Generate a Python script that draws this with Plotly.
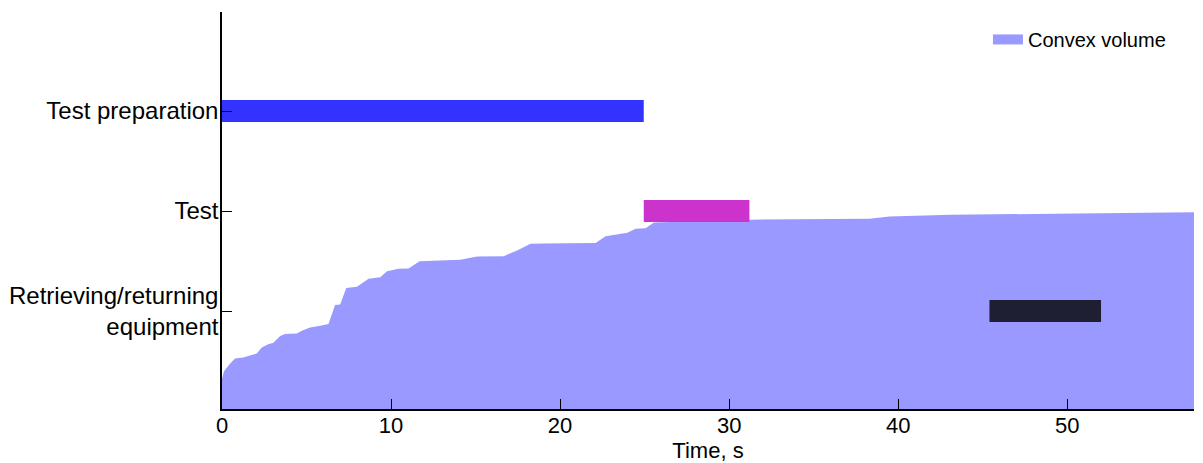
import plotly.graph_objects as go

# Activity timeline (seconds)
tasks = ["Test preparation", "Test", "Retrieving/returning<br>equipment"]
task_pos = [2, 1, 0]
task_start = [0.0, 24.95, 45.4]
task_end = [24.95, 31.2, 52.0]
task_colors = ["#3333ff", "#cc33cc", "#1f1f33"]

# Convex volume (normalised) over time
vol_t = [0.0, 0.12, 0.47, 0.77, 1.26, 1.66, 2.06, 2.35, 2.74, 3.04, 3.44, 3.73, 4.43, 4.72,
         5.21, 5.81, 6.30, 6.69, 6.99, 7.35, 7.98, 8.67, 9.36, 9.76, 10.44, 11.04, 11.69,
         14.10, 15.09, 16.66, 17.46, 18.25, 19.03, 22.10, 22.69, 23.98, 24.47, 25.06, 25.55,
         31.28, 38.33, 39.48, 43.13, 49.28, 53.14, 57.7]
vol_v = [0.076, 0.095, 0.114, 0.127, 0.130, 0.136, 0.140, 0.155, 0.163, 0.167, 0.184, 0.189,
         0.190, 0.197, 0.205, 0.210, 0.214, 0.262, 0.263, 0.305, 0.308, 0.328, 0.332, 0.347,
         0.353, 0.354, 0.372, 0.376, 0.384, 0.385, 0.399, 0.416, 0.417, 0.418, 0.435, 0.444,
         0.454, 0.455, 0.470, 0.477, 0.479, 0.485, 0.489, 0.492, 0.494, 0.496]

x_ticks = [0, 10, 20, 30, 40, 50]

FONT = "Liberation Sans, Arial, Helvetica, sans-serif"
AREA_COLOR = "#9999ff"

fig = go.Figure()

fig.add_trace(go.Scatter(
    x=vol_t, y=vol_v, mode="lines", fill="tozeroy",
    line=dict(width=0, color=AREA_COLOR), fillcolor=AREA_COLOR,
    name="Convex volume", yaxis="y", showlegend=False, hoverinfo="skip",
))
# legend swatch (thick rectangle) for the area
fig.add_trace(go.Scatter(
    x=[None], y=[None], mode="lines", line=dict(width=13, color=AREA_COLOR),
    name="Convex volume", yaxis="y", showlegend=True,
))

for name, pos, s, e, c in zip(tasks, task_pos, task_start, task_end, task_colors):
    fig.add_trace(go.Bar(
        y=[pos], x=[e - s], base=[s], orientation="h", width=0.22,
        marker=dict(color=c, line=dict(width=0)), yaxis="y2", showlegend=False,
        name=name.replace("<br>", " "),
    ))

# page body has an 8px margin, so the figure is 8px smaller and margins shifted
fig.update_layout(
    width=1195, height=455,
    margin=dict(l=214, r=9, t=4, b=54, autoexpand=False),
    paper_bgcolor="white", plot_bgcolor="white",
    font=dict(family=FONT, size=22, color="black"),
    showlegend=True,
    legend=dict(x=0.788, xanchor="left", y=0.98, yanchor="top",
                bgcolor="rgba(0,0,0,0)", font=dict(size=20, family=FONT)),
    xaxis=dict(range=[0, 57.5], tickvals=x_ticks, ticks="inside", ticklen=10,
               tickwidth=1.2, tickcolor="black", showline=True, linecolor="black",
               linewidth=1.5, showgrid=False, zeroline=False, automargin=False,
               tickfont=dict(size=22), ticklabelstandoff=-4,
               title=dict(text="Time, s", font=dict(size=22), standoff=0)),
    yaxis=dict(range=[0, 1], visible=False, showgrid=False, zeroline=False),
    yaxis2=dict(overlaying="y", side="left", range=[-0.98, 2.99],
                tickvals=task_pos, ticktext=tasks, ticks="inside", ticklen=10,
                tickwidth=1.2, tickcolor="black", showline=True, linecolor="black",
                linewidth=1.5, showgrid=False, zeroline=False, automargin=False,
                tickfont=dict(size=24), ticklabelstandoff=-3),
    barmode="overlay",
)

fig.write_html("out.html")
